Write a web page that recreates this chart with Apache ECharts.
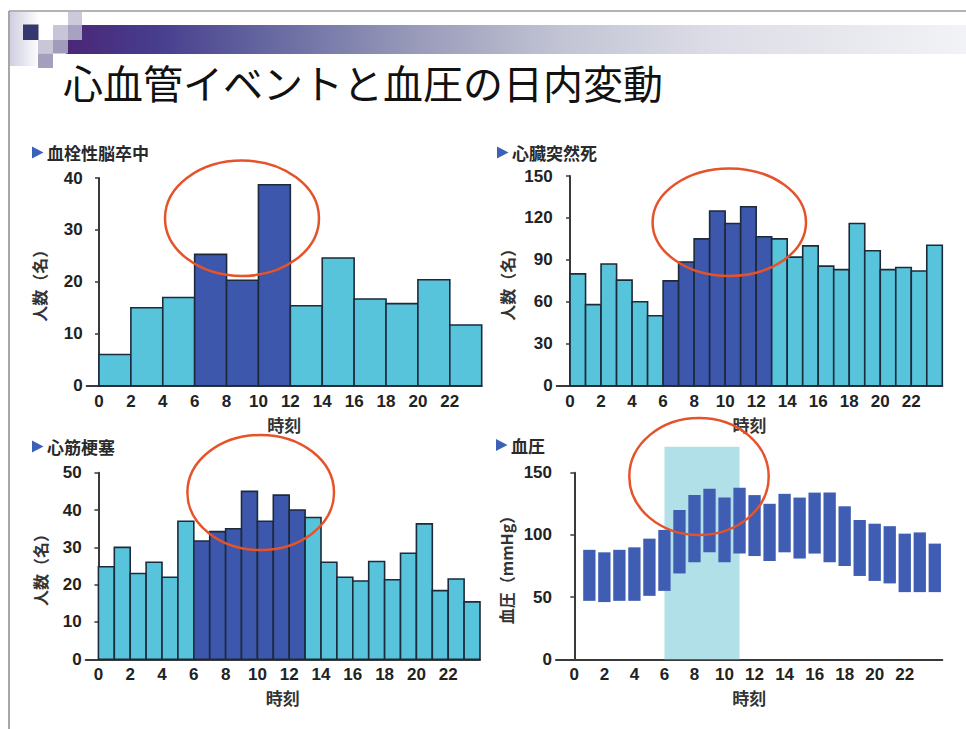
<!DOCTYPE html>
<html>
<head>
<meta charset="utf-8">
<script src="https://cdn.jsdelivr.net/npm/echarts@6/dist/echarts.min.js"></script>
<style>
html,body{margin:0;padding:0;background:#fff}
#main{width:966px;height:729px}
</style>
</head>
<body>
<div id="main"></div>
<script>
// 時刻の目盛り
var hourTicks = [0, 2, 4, 6, 8, 10, 12, 14, 16, 18, 20, 22];
// 血栓性脳卒中（2時間ごと）
var strokeVals = [6, 15, 17, 25.3, 20.3, 38.7, 15.4, 24.6, 16.7, 15.8, 20.4, 11.7];
var strokeHi = [6, 8, 10];
// 心臓突然死（1時間ごと）
var suddenVals = [80, 58, 87, 75.5, 60, 50, 75, 88.5, 105, 125, 116, 128, 106.5, 105, 92, 100, 85.5, 83, 116, 96.5, 83, 84.5, 82, 100.5];
var suddenHi = [6, 7, 8, 9, 10, 11, 12];
// 心筋梗塞（1時間ごと）
var infarctVals = [24.8, 30, 23, 26, 22, 37, 31.7, 34.2, 35, 45, 37, 44, 40, 38, 26, 22, 21, 26.2, 21.3, 28.4, 36.3, 18.4, 21.5, 15.4];
var infarctHi = [6, 7, 8, 9, 10, 11, 12];
// 血圧
var bpHours = [1, 2, 3, 4, 5, 6, 7, 8, 9, 10, 11, 12, 13, 14, 15, 16, 17, 18, 19, 20, 21, 22, 23, 24];
var bpHigh = [88, 86, 88, 90, 97, 104, 120, 132, 137, 130, 138, 132, 125, 133, 130, 134, 134, 123, 112, 109, 107, 101, 102, 93];
var bpLow = [47, 46, 47, 47, 51, 55, 69, 78, 86, 78, 85, 83, 79, 86, 81, 85, 78, 75, 67, 63, 61, 54, 54, 54];
var bpShade = [6, 11];

var LIGHT = '#57c4dc', DARK = '#3d57ac', EDGE = '#1d2a3a', AXIS = '#3a3a3a';
var BP = '#3f5db2', SHADE = '#b2e0e8', RED = '#e5532b';
var NUMFONT = '"Liberation Sans", Arial, sans-serif';
var JPFONT = '"Noto Sans CJK JP", sans-serif';

var chart = echarts.init(document.getElementById('main'), null, {renderer: 'svg'});

function binItem(w, hi) {
  return function (params, api) {
    var h = api.value(0);
    var a = api.coord([h, api.value(1)]);
    var b = api.coord([h + w, 0]);
    return {
      type: 'rect',
      shape: {x: a[0], y: a[1], width: b[0] - a[0], height: b[1] - a[1]},
      style: {fill: hi.indexOf(h) >= 0 ? DARK : LIGHT, stroke: EDGE, lineWidth: 1.6}
    };
  };
}

function xAx(idx, min, max) {
  return {
    type: 'value', gridIndex: idx, min: min, max: max,
    name: '時刻', nameLocation: 'middle', nameGap: 30,
    nameTextStyle: {fontFamily: JPFONT, fontSize: 17, fontWeight: 'bold', color: '#333'},
    axisLine: {show: true, onZero: false, lineStyle: {color: AXIS, width: 2}},
    axisTick: {show: false},
    axisLabel: {customValues: hourTicks, margin: 7, fontFamily: NUMFONT, fontSize: 17, fontWeight: 'bold', color: '#222'},
    splitLine: {show: false}
  };
}

function yAx(idx, max, step, name, gap) {
  return {
    type: 'value', gridIndex: idx, min: 0, max: max, interval: step,
    name: name, nameLocation: 'middle', nameGap: gap,
    nameTextStyle: {fontFamily: JPFONT, fontSize: 16, fontWeight: 'bold', color: '#333'},
    axisLine: {show: true, lineStyle: {color: AXIS, width: 2}},
    axisTick: {show: true, length: 4, lineStyle: {color: AXIS, width: 1.5}},
    axisLabel: {margin: 4, fontFamily: NUMFONT, fontSize: 17, fontWeight: 'bold', color: '#222'},
    splitLine: {show: false}
  };
}

function subTitle(x, y, text) {
  return [
    {type: 'polygon', shape: {points: [[x, y - 6], [x + 11.5, y], [x, y + 6]]}, style: {fill: '#3b62b8'}},
    {type: 'text', x: x + 15, y: y, style: {text: text, fontFamily: JPFONT, fontSize: 17, fontWeight: 'bold', fill: '#2a2a2a', verticalAlign: 'middle'}}
  ];
}

function ring(cx, cy, rx, ry) {
  return {type: 'ellipse', z: 100, shape: {cx: cx, cy: cy, rx: rx, ry: ry}, style: {fill: 'none', stroke: RED, lineWidth: 2.5}};
}

function sq(x, y, w, h, c) {
  return {type: 'rect', z: 5, shape: {x: x, y: y, width: w, height: h}, style: {fill: c}};
}

var graphics = [
  // スライドの枠線
  {type: 'line', shape: {x1: 9, y1: 11, x2: 966, y2: 11}, style: {stroke: '#9a9a9a', lineWidth: 1.5}},
  {type: 'line', shape: {x1: 9, y1: 11, x2: 9, y2: 729}, style: {stroke: '#8a8a8a', lineWidth: 1.5}},
  // 見出しの帯
  {type: 'rect', shape: {x: 10, y: 12, width: 30, height: 54},
    style: {fill: new echarts.graphic.LinearGradient(0, 0, 1, 0, [{offset: 0, color: '#cfcfe2'}, {offset: 1, color: '#ffffff'}])}},
  {type: 'rect', shape: {x: 66, y: 25, width: 900, height: 29},
    style: {fill: new echarts.graphic.LinearGradient(0, 0, 1, 0, [
      {offset: 0, color: '#4b2676'}, {offset: 0.1, color: '#473d8e'}, {offset: 0.22, color: '#6466a0'},
      {offset: 0.38, color: '#9698b8'}, {offset: 0.55, color: '#c2c4d4'}, {offset: 0.72, color: '#dcdde6'},
      {offset: 1, color: '#f2f3f6'}])}},
  sq(23, 24.5, 15.5, 15.5, '#37376f'),
  sq(68, 12, 14, 13, '#cbc9da'),
  sq(53, 25, 15, 15, '#c9c5d8'),
  sq(68, 25, 14, 15, '#a7a2bf'),
  sq(38, 40, 15, 13.5, '#cac6d8'),
  sq(53, 40, 15, 13.5, '#a19cba'),
  sq(38, 53.5, 15, 14.5, '#a49fbc'),
  // タイトル
  {type: 'text', x: 63, y: 82, style: {text: '心血管イベントと血圧の日内変動', fontFamily: JPFONT, fontSize: 40, fill: '#111', verticalAlign: 'middle'}},
  ring(242, 218.3, 77, 57.7),
  ring(729.3, 222.2, 76.7, 53.8),
  ring(260.7, 492.5, 73.3, 57.5),
  ring(699, 476.5, 69.7, 58.5)
].concat(subTitle(32, 152.5, '血栓性脳卒中'), subTitle(497, 152.5, '心臓突然死'),
         subTitle(32, 446.5, '心筋梗塞'), subTitle(496, 445, '血圧'));

var option = {
  backgroundColor: '#fff',
  animation: false,
  graphic: graphics,
  grid: [
    {left: 86.7, right: 484.3, top: 178, height: 207.7},
    {left: 556.7, right: 23.7, top: 176, height: 209.7},
    {left: 85.7, right: 486, top: 472.7, height: 186.6},
    {left: 556, right: 23.7, top: 472.7, height: 186.6}
  ],
  xAxis: [xAx(0, -0.77, 24), xAx(1, -0.86, 24), xAx(2, -0.8, 24), xAx(3, -1.22, 24.5)],
  yAxis: [
    yAx(0, 40, 10, '人数（名）', 40),
    yAx(1, 150, 30, '人数（名）', 42),
    yAx(2, 50, 10, '人数（名）', 38),
    yAx(3, 150, 50, '血圧（mmHg）', 42)
  ],
  series: [
    {type: 'custom', xAxisIndex: 0, yAxisIndex: 0, renderItem: binItem(2, strokeHi),
      data: strokeVals.map(function (v, i) { return [i * 2, v]; })},
    {type: 'custom', xAxisIndex: 1, yAxisIndex: 1, renderItem: binItem(1, suddenHi),
      data: suddenVals.map(function (v, i) { return [i, v]; })},
    {type: 'custom', xAxisIndex: 2, yAxisIndex: 2, renderItem: binItem(1, infarctHi),
      data: infarctVals.map(function (v, i) { return [i, v]; })},
    {type: 'custom', xAxisIndex: 3, yAxisIndex: 3, z: 1,
      renderItem: function (params, api) {
        var a = api.coord([api.value(0), 150]);
        var b = api.coord([api.value(1), 0]);
        return {type: 'rect', shape: {x: a[0], y: a[1] - 26, width: b[0] - a[0], height: b[1] - a[1] + 26}, style: {fill: SHADE}};
      },
      data: [bpShade]},
    {type: 'custom', xAxisIndex: 3, yAxisIndex: 3, z: 3,
      renderItem: function (params, api) {
        var lo = api.coord([api.value(0), api.value(1)]);
        var hi = api.coord([api.value(0), api.value(2)]);
        var w = api.size([0.82, 0])[0];
        return {type: 'rect', shape: {x: lo[0] - w / 2, y: hi[1], width: w, height: lo[1] - hi[1]}, style: {fill: BP}};
      },
      data: bpHours.map(function (h, i) { return [h, bpLow[i], bpHigh[i]]; })}
  ]
};

chart.setOption(option);
</script>
</body>
</html>
